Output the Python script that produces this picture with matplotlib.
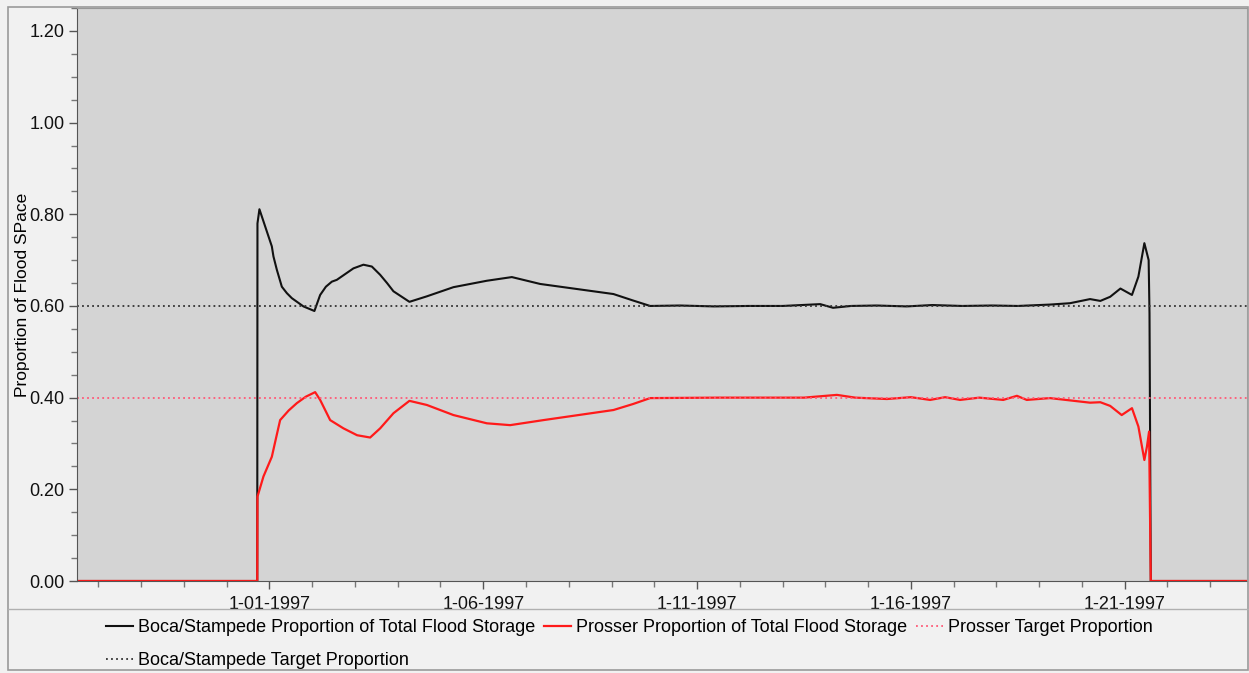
import datetime as dt
import numpy as np
import matplotlib
matplotlib.use("Agg")
import matplotlib.pyplot as plt
import matplotlib.dates as mdates
from matplotlib.lines import Line2D
from matplotlib.patches import Rectangle
from matplotlib.ticker import MultipleLocator, FuncFormatter

# days after 1-01-1997 00:00
boca_days = [-4.5, -0.285, -0.28, -0.234, 0.056, 0.094, 0.173, 0.29, 0.407, 0.524, 0.795, 1.052,
             1.186, 1.32, 1.459, 1.576, 1.964, 2.198, 2.395, 2.589, 2.75, 2.9, 3.274, 3.681,
             4.303, 5.084, 5.669, 6.331, 8.045, 8.5, 8.903, 9.6, 10.4, 11.2, 12.0, 12.88, 13.18,
             13.6, 14.2, 14.9, 15.5, 16.2, 16.9, 17.5, 18.25, 18.72, 19.19, 19.43, 19.66, 19.9,
             20.17, 20.32, 20.46, 20.56, 20.58, 20.61, 22.9]
boca_vals = [0.0, 0.0, 0.78, 0.811, 0.73, 0.708, 0.679, 0.642, 0.628, 0.617, 0.599, 0.589,
             0.624, 0.642, 0.653, 0.657, 0.682, 0.690, 0.686, 0.668, 0.650, 0.632, 0.609, 0.621,
             0.641, 0.655, 0.663, 0.648, 0.626, 0.612, 0.600, 0.601, 0.599, 0.600, 0.600, 0.604,
             0.596, 0.600, 0.601, 0.599, 0.602, 0.600, 0.601, 0.600, 0.603, 0.606, 0.615, 0.611,
             0.620, 0.638, 0.624, 0.664, 0.737, 0.700, 0.584, 0.0, 0.0]

prosser_days = [-4.5, -0.285, -0.28, -0.140, 0.056, 0.15, 0.25, 0.45, 0.641, 0.85, 1.069, 1.186,
                1.42, 1.731, 2.05, 2.355, 2.589, 2.9, 3.274, 3.681, 4.303, 5.084, 5.629, 6.408,
                8.045, 8.5, 8.903, 10.5, 12.5, 13.27, 13.7, 14.44, 15.0, 15.45, 15.8, 16.15,
                16.6, 17.16, 17.48, 17.71, 18.25, 19.19, 19.43, 19.66, 19.93, 20.17, 20.32,
                20.46, 20.52, 20.57, 20.61, 22.9]
prosser_vals = [0.0, 0.0, 0.184, 0.228, 0.271, 0.31, 0.351, 0.372, 0.388, 0.402, 0.412, 0.395,
                0.351, 0.333, 0.318, 0.313, 0.333, 0.366, 0.393, 0.384, 0.362, 0.344, 0.340,
                0.351, 0.373, 0.386, 0.399, 0.400, 0.400, 0.406, 0.400, 0.397, 0.401, 0.395,
                0.401, 0.395, 0.400, 0.395, 0.404, 0.395, 0.399, 0.389, 0.390, 0.382, 0.362,
                0.377, 0.337, 0.264, 0.293, 0.326, 0.0, 0.0]

boca_target = 0.60
prosser_target = 0.40

start = dt.datetime(1997, 1, 1)
to_dates = lambda ds: [start + dt.timedelta(days=d) for d in ds]

fig = plt.figure(figsize=(12.49, 6.73), dpi=100)
fig.patch.set_facecolor("#f1f1f1")
plt.rcParams["font.family"] = ["Liberation Sans", "DejaVu Sans"]

ax = fig.add_axes([77 / 1249, 1 - 581 / 673, 1170 / 1249, 573 / 673])
ax.set_facecolor("#d4d4d4")

l_boca, = ax.plot(to_dates(boca_days), boca_vals, color="#111111", lw=1.5)
l_pros, = ax.plot(to_dates(prosser_days), prosser_vals, color="#ff1a1a", lw=1.6)
l_pt = ax.axhline(prosser_target, color="#ff5a78", lw=1.3, ls=(0, (1, 1.8)))
l_bt = ax.axhline(boca_target, color="#333333", lw=1.3, ls=(0, (1, 1.8)))

ax.set_xlim(start + dt.timedelta(days=-4.5), start + dt.timedelta(days=22.86))
ax.set_ylim(0, 1.25)

ax.xaxis.set_major_locator(mdates.DayLocator(bymonthday=[1, 6, 11, 16, 21]))
ax.xaxis.set_minor_locator(mdates.DayLocator())
ax.xaxis.set_major_formatter(FuncFormatter(
    lambda v, p: "%d-%02d-%d" % (mdates.num2date(v).month, mdates.num2date(v).day, mdates.num2date(v).year)))
ax.yaxis.set_major_locator(MultipleLocator(0.2))
ax.yaxis.set_minor_locator(MultipleLocator(0.05))
ax.yaxis.set_major_formatter(FuncFormatter(lambda v, p: "%.2f" % v))

ax.tick_params(axis="both", which="major", length=6, width=1, color="#555555",
               labelsize=13, labelcolor="#111111", pad=3)
ax.tick_params(axis="x", which="major", pad=5)
ax.tick_params(axis="both", which="minor", length=4, width=1, color="#777777")

for s in ["left", "bottom"]:
    ax.spines[s].set_color("#555555")
ax.spines["top"].set_color("#999999")
ax.spines["right"].set_color("#bbbbbb")

ax.set_ylabel("Proportion of Flood SPace", fontsize=12.5)
ax.yaxis.set_label_coords(-0.04, 0.5)

# outer frame and legend separator
fig.add_artist(Rectangle((8 / 1249, 3 / 673), 1240 / 1249, 663 / 673, transform=fig.transFigure,
                         fill=False, ec="#9a9a9a", lw=1.2))
fig.add_artist(Line2D([8 / 1249, 1], [1 - 609 / 673] * 2, transform=fig.transFigure,
                      color="#b0b0b0", lw=1))

fig.legend([l_boca, l_bt, l_pros, l_pt],
           ["Boca/Stampede Proportion of Total Flood Storage", "Boca/Stampede Target Proportion",
            "Prosser Proportion of Total Flood Storage", "Prosser Target Proportion"],
           ncol=3, loc="upper left", bbox_to_anchor=(106 / 1249, 1 - 619 / 673),
           frameon=False, fontsize=13, handlelength=1.5, handletextpad=0.3,
           columnspacing=0.45, labelspacing=0.9, borderpad=0, borderaxespad=0)

fig.savefig("out.png", dpi=100, facecolor=fig.get_facecolor())
